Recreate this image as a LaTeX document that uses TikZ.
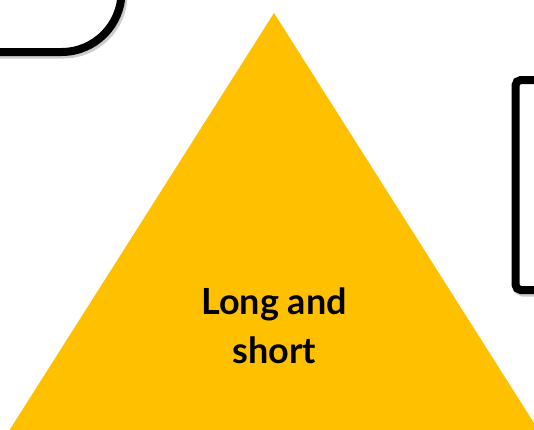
\documentclass[tikz,border=0pt]{standalone}
\usepackage{fontspec}
\setmainfont{Lato}
\definecolor{gold}{HTML}{FFC000}
\begin{document}
\begin{tikzpicture}[x=0.75pt,y=-0.75pt,
  boxline/.style={draw=black,line width=6pt,fill=white},
  shadowline/.style={draw=black!20,line width=6pt},
  lbl/.style={font=\bfseries\fontsize{27}{37}\selectfont,align=center,text=black}]
\useasboundingbox (0,0) rectangle (534,429);
\clip (0,0) rectangle (534,429);
% top-left rounded box
\draw[shadowline,rounded corners=45] (-150,-150) rectangle (123.5,54.5);
\draw[boxline,rounded corners=45] (-150,-150) rectangle (121.5,52);
% right box
\draw[shadowline,rounded corners=4] (517.5,82.5) rectangle (650,292.5);
\draw[boxline,rounded corners=4] (515.5,80) rectangle (650,290);
% triangle
\fill[gold] (274,13) coordinate (apex) -- (560,464) -- (-12,464) -- cycle;
\node[lbl] (t) at (274,326) {Long and\\short};
\end{tikzpicture}
\end{document}
